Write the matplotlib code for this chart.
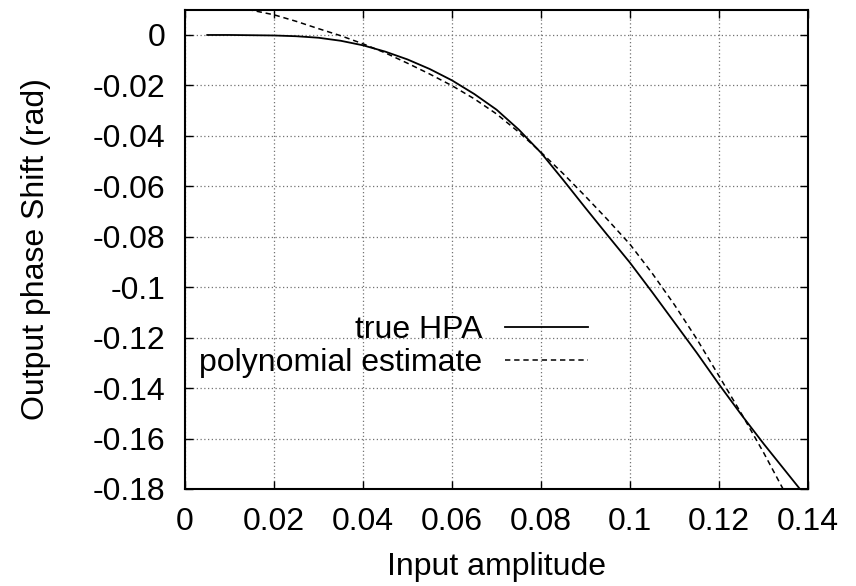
import matplotlib
matplotlib.use("Agg")
import matplotlib.pyplot as plt

plt.rcParams["font.family"] = ["Liberation Sans", "DejaVu Sans"]

# true HPA phase curve
amp_true = [0.005, 0.010, 0.015, 0.020, 0.025, 0.030, 0.035, 0.040, 0.045, 0.050,
            0.055, 0.060, 0.065, 0.070, 0.075, 0.080, 0.085, 0.090, 0.095, 0.100,
            0.105, 0.110, 0.115, 0.120, 0.125, 0.130, 0.135, 0.140]
phase_true = [0.0, -0.0000, -0.0001, -0.0002, -0.0005, -0.0011, -0.0023, -0.0041, -0.0066, -0.0097,
              -0.0135, -0.0180, -0.0234, -0.0296, -0.0375, -0.0467, -0.0575, -0.0686, -0.0795, -0.0903,
              -0.1020, -0.1140, -0.1260, -0.1385, -0.1505, -0.1620, -0.1730, -0.1840]

# polynomial estimate
amp_poly = [0.010, 0.015, 0.020, 0.025, 0.030, 0.035, 0.040, 0.045, 0.050, 0.055,
            0.060, 0.065, 0.070, 0.075, 0.080, 0.085, 0.090, 0.095, 0.100, 0.105,
            0.110, 0.115, 0.120, 0.125, 0.130, 0.135, 0.140]
phase_poly = [0.0112, 0.0098, 0.0080, 0.0054, 0.0025, -0.0003, -0.0035, -0.0071, -0.0112, -0.0155,
              -0.0201, -0.0253, -0.0313, -0.0385, -0.0465, -0.0550, -0.0640, -0.0733, -0.0830, -0.0945,
              -0.1070, -0.1205, -0.1352, -0.1500, -0.1655, -0.1820, -0.2000]

xticks = [0, 0.02, 0.04, 0.06, 0.08, 0.1, 0.12, 0.14]
xtick_labels = ["0", "0.02", "0.04", "0.06", "0.08", "0.1", "0.12", "0.14"]
yticks = [0, -0.02, -0.04, -0.06, -0.08, -0.1, -0.12, -0.14, -0.16, -0.18]
ytick_labels = ["0", "-0.02", "-0.04", "-0.06", "-0.08", "-0.1", "-0.12", "-0.14", "-0.16", "-0.18"]

fig = plt.figure(figsize=(8.56, 5.86), dpi=100)
ax = fig.add_axes([185 / 856, 1 - 489 / 586, 623 / 856, 479 / 586])

ax.plot(amp_true, phase_true, color="black", lw=1.3, label="true HPA")
ax.plot(amp_poly, phase_poly, color="black", lw=1.1, dashes=(3.5, 2.5),
        label="polynomial estimate")

ax.set_xlim(0, 0.14)
ax.set_ylim(-0.18, 0.0099)
ax.set_xticks(xticks, xtick_labels)
ax.set_yticks(yticks, ytick_labels)
ax.tick_params(direction="in", length=6, width=1, top=True, right=True,
               labelsize=23, colors="black")
ax.tick_params(axis="y", pad=14)
ax.tick_params(axis="x", pad=13)
ax.grid(True, color="0.45", linestyle=(0, (1, 2)), lw=0.9)
for s in ax.spines.values():
    s.set_linewidth(1.5)

ax.set_xlabel("Input amplitude", fontsize=23, labelpad=11)
ax.set_ylabel("Output phase Shift (rad)", fontsize=23, labelpad=30)

ax.legend(loc="center right", bbox_to_anchor=(0.647, 0.297), frameon=False,
          markerfirst=False, fontsize=23, handlelength=2.6, handletextpad=0.72,
          borderpad=0, borderaxespad=0, labelspacing=0.1)

fig.savefig("out.png", dpi=100)
